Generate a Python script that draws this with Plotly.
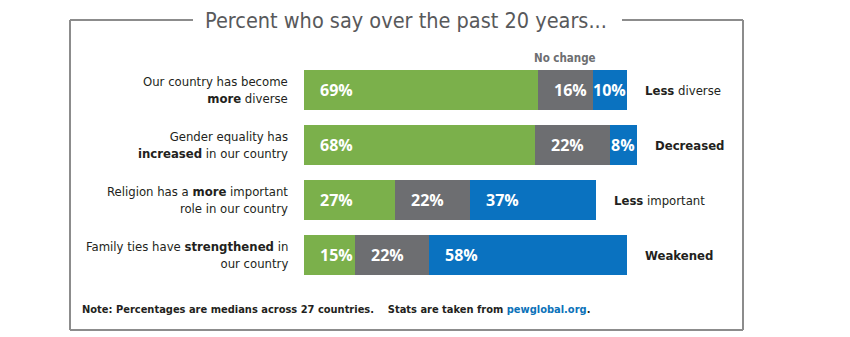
import plotly.graph_objects as go

# ---- data ----
left_labels = [
    "Our country has become<br><b>more</b> diverse",
    "Gender equality has<br><b>increased</b> in our country",
    "Religion has a <b>more</b> important<br>role in our country",
    "Family ties have <b>strengthened</b> in<br>our country",
]
right_labels = ["<b>Less</b> diverse", "<b>Decreased</b>", "<b>Less</b> important", "<b>Weakened</b>"]
categories = ["diverse", "gender", "religion", "family"]
more_vals = [69, 68, 27, 15]
nochange_vals = [16, 22, 22, 22]
less_vals = [10, 8, 37, 58]

title_text = "Percent who say over the past 20 years..."
note_text = "Note: Percentages are medians across 27 countries."
source_text = "Stats are taken from <span style='color:#0b72b9'>pewglobal.org</span>."

GREEN = "#7bb04b"
GRAY = "#6d6e71"
BLUE = "#0a72c0"
COND = "DejaVu Sans Condensed, DejaVu Sans, sans-serif"
PCT_FONT = "Open Sans, Roboto, sans-serif"

W, H = 850, 337
X0_PX = 303.5       # pixel where 0% sits
PX_PER = 3.4        # pixels per percent
Y0_PX, DY_PX = 90, 55  # first bar centre, spacing

fig = go.Figure()
series = [(more_vals, GREEN), (nochange_vals, GRAY), (less_vals, BLUE)]
for vals, col in series:
    fig.add_trace(go.Bar(
        y=categories, x=vals, orientation="h", marker=dict(color=col, line=dict(width=0)),
        width=0.73, hoverinfo="skip", showlegend=False,
    ))

annotations = []
pad = 14 / PX_PER
for i, cat in enumerate(categories):
    starts = [0, more_vals[i], more_vals[i] + nochange_vals[i]]
    vals = [more_vals[i], nochange_vals[i], less_vals[i]]
    for s, v in zip(starts, vals):
        if v <= 10:
            x, anchor = s + v / 2, "center"
        else:
            x, anchor = s + pad, "left"
        annotations.append(dict(
            x=x, y=cat, xref="x", yref="y", text=f"<b>{v}%</b>", showarrow=False,
            xanchor=anchor, yanchor="middle",
            font=dict(family=PCT_FONT, size=16, color="white"),
        ))
    total = sum(vals)
    annotations.append(dict(
        x=total + 16 / PX_PER, y=cat, xref="x", yref="y", text=right_labels[i],
        showarrow=False, xanchor="left", yanchor="middle",
        font=dict(family=COND, size=13, color="#231f20"),
    ))
    annotations.append(dict(
        x=-14 / PX_PER, y=cat, xref="x", yref="y", text=left_labels[i],
        showarrow=False, xanchor="right", yanchor="middle", align="right",
        font=dict(family=COND, size=13, color="#231f20"),
    ))

# "No change" header above gray segment of first bar
annotations.append(dict(
    x=more_vals[0] + nochange_vals[0] / 2, y=categories[0], xref="x", yref="y",
    yshift=32, text="<b>No change</b>", showarrow=False, xanchor="center", yanchor="middle",
    font=dict(family=COND, size=11.5, color=GRAY),
))

# title
annotations.append(dict(
    x=406 / W, y=1 - 20 / H, xref="paper", yref="paper", text=title_text, showarrow=False,
    xanchor="center", yanchor="middle",
    font=dict(family=COND, size=21.5, color="#58595b"),
))
# footnote
annotations.append(dict(
    x=80 / W, y=1 - 309 / H, xref="paper", yref="paper",
    text=f"<b>{note_text}&nbsp;&nbsp;&nbsp;&nbsp;{source_text}</b>", showarrow=False,
    xanchor="left", yanchor="middle",
    font=dict(family=COND, size=11, color="#231f20"),
))

# border frame with gap for title
bx0, bx1, by0, by1 = 70 / W, 743 / W, 1 - 20 / H, 1 - 330 / H
gap_l, gap_r = 193 / W, 622 / W
line = dict(color="#8c8c8c", width=2)
shapes = [
    dict(type="line", xref="paper", yref="paper", x0=bx0, x1=gap_l, y0=by0, y1=by0, line=line),
    dict(type="line", xref="paper", yref="paper", x0=gap_r, x1=bx1, y0=by0, y1=by0, line=line),
    dict(type="line", xref="paper", yref="paper", x0=bx0, x1=bx0, y0=by0, y1=by1, line=line),
    dict(type="line", xref="paper", yref="paper", x0=bx1, x1=bx1, y0=by0, y1=by1, line=line),
    dict(type="line", xref="paper", yref="paper", x0=bx0, x1=bx1, y0=by1, y1=by1, line=line),
]

fig.update_layout(
    width=W, height=H, margin=dict(l=0, r=0, t=0, b=0),
    barmode="stack", bargap=0,
    plot_bgcolor="white", paper_bgcolor="white",
    xaxis=dict(range=[-X0_PX / PX_PER, (W - X0_PX) / PX_PER], visible=False, fixedrange=True),
    yaxis=dict(type="category", categoryorder="array", categoryarray=categories,
               range=[(H - Y0_PX) / DY_PX, -Y0_PX / DY_PX], visible=False, fixedrange=True),
    annotations=annotations, shapes=shapes,
)

fig.write_html("out.html")
